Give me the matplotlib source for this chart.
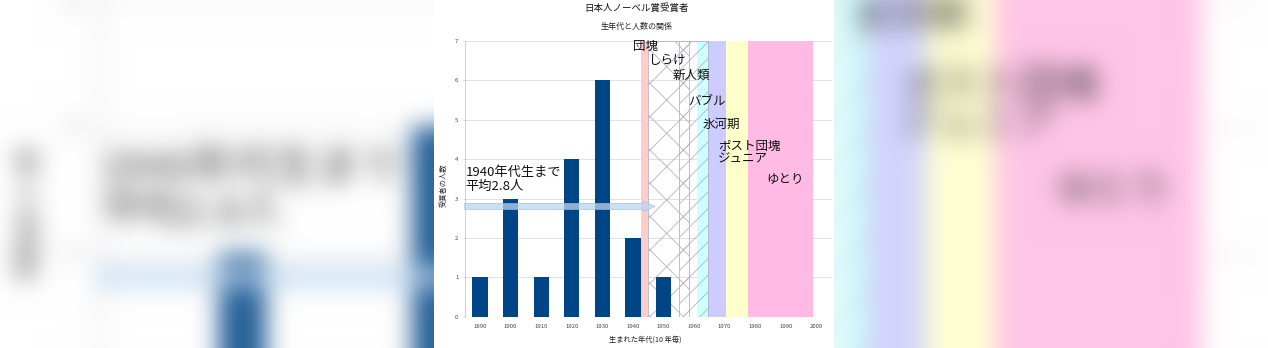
import numpy as np
import matplotlib
matplotlib.use("Agg")
import matplotlib.pyplot as plt

plt.rcParams['font.family'] = ['Noto Sans CJK JP', 'DejaVu Sans']
plt.rcParams['hatch.linewidth'] = 0.6

# --- data -------------------------------------------------------------
decades = [1890, 1900, 1910, 1920, 1930, 1940, 1950, 1960, 1970, 1980, 1990, 2000]
laureates = [1, 3, 1, 4, 6, 2, 1, 0, 0, 0, 0, 0]
avg_until_1940s = 2.8

title = '日本人ノーベル賞受賞者'
subtitle = '生年代と人数の関係'
xlabel = '生まれた年代(10 年毎)'
ylabel = '受賞者の人数'
note = '1940年代生まで\n平均2.8人'

gen_names = ['団塊', 'しらけ', '新人類', 'バブル', '氷河期', 'ポスト団塊\nジュニア', 'ゆとり']
gen_start = [1942.5, 1945.0, 1955.0, 1961.0, 1964.5, 1970.5, 1977.5]
gen_end = [1945.0, 1958.5, 1964.5, 1964.5, 1970.5, 1977.5, 1999.0]

# --- styles -----------------------------------------------------------
BAR_COLOR = '#004586'
gen_fill = ['#ffcccc', None, None, '#ccffff', '#ccccff', '#ffffcc', '#ffbbe3']
gen_hatch = [None, 'x', '//', None, None, None, None]
HATCH_COLOR = '#b4b4c4'
# label anchors (x in years, y in count units)
gen_label_pos = [(1940.0, 6.87), (1944.8, 6.51), (1953.0, 6.13), (1958.0, 5.47),
                 (1962.8, 4.87), (1967.8, 4.17), (1983.5, 3.49)]

FIG_W, FIG_H = 1268, 348
CHART_W = 400
CHART_X0 = (FIG_W - CHART_W) // 2


def draw_chart(fig, ox):
    fw, fh = fig.get_size_inches() * fig.dpi

    def fx(px):
        return (ox + px) / fw

    def fy(py):
        return 1 - py / fh

    ax = fig.add_axes([fx(30.7), fy(316.7), 367 / fw, 275.7 / fh])
    ax.set_xlim(1885, 2005)
    ax.set_ylim(0, 7)
    ax.set_facecolor('white')

    # generation bands
    for s, e, fc in zip(gen_start, gen_end, gen_fill):
        if fc is not None:
            ax.axvspan(s, e, facecolor=fc, edgecolor='none', zorder=1)
    for s, e, h in zip(gen_start, gen_end, gen_hatch):
        if h is not None:
            ax.axvspan(s, e, facecolor='none', edgecolor=HATCH_COLOR,
                       hatch=h, linewidth=0.6, zorder=1.1)

    ax.bar(decades, laureates, width=5, color=BAR_COLOR, zorder=2)

    # average arrow
    ax.annotate('', xy=(1947.3, avg_until_1940s), xytext=(1885.0, avg_until_1940s),
                arrowprops=dict(arrowstyle='simple,head_length=8.5,head_width=7.4,tail_width=4.3',
                                mutation_scale=1, fc='#bcd6f0', ec='#9cbde0', lw=0.6,
                                alpha=0.75, shrinkA=0, shrinkB=0),
                zorder=3, annotation_clip=False)
    ax.text(1885.3, 3.48, note, fontsize=9.5, va='center', ha='left',
            linespacing=1.1, color='#111111', zorder=4)

    for name, (lx, ly) in zip(gen_names, gen_label_pos):
        ax.text(lx, ly, name, fontsize=9, va='center', ha='left',
                linespacing=1.0, color='#111111', zorder=4)

    ax.set_yticks(range(0, 8))
    ax.set_xticks(decades)
    ax.set_xticklabels([str(d) for d in decades])
    ax.set_axisbelow(True)
    ax.yaxis.grid(True, color='#dcdcdc', linewidth=0.6)
    for side in ('top', 'right', 'bottom'):
        ax.spines[side].set_visible(False)
    ax.spines['left'].set_color('#c8c8c8')
    ax.spines['left'].set_linewidth(0.6)
    ax.tick_params(axis='y', length=1.5, width=0.5, color='#c8c8c8',
                   pad=3, labelsize=4.3, labelcolor='#444444')
    ax.tick_params(axis='x', length=0, pad=5.2, labelsize=4.3, labelcolor='#444444')

    fig.text(fx(202.5), fy(8), title, ha='center', va='center', fontsize=6.8, color='#111111')
    fig.text(fx(202.5), fy(26), subtitle, ha='center', va='center', fontsize=5.8, color='#222222')
    fig.text(fx(211), fy(340), xlabel, ha='center', va='center', fontsize=5.2, color='#222222')
    fig.text(fx(10), fy(185), ylabel, ha='center', va='center', rotation=90,
             fontsize=5.2, color='#222222')
    return ax


def gaussian_blur(img, sigma):
    r = int(3 * sigma)
    k = np.exp(-0.5 * (np.arange(-r, r + 1) / sigma) ** 2)
    k /= k.sum()
    h, w = img.shape[:2]
    p = np.pad(img, ((r, r), (0, 0), (0, 0)), mode='edge')
    img = sum(k[i] * p[i:i + h] for i in range(2 * r + 1))
    p = np.pad(img, ((0, 0), (r, r), (0, 0)), mode='edge')
    img = sum(k[i] * p[:, i:i + w] for i in range(2 * r + 1))
    return img


# render the chart alone, to be used as a soft enlarged backdrop
small = plt.figure(figsize=(CHART_W / 100, FIG_H / 100), dpi=100, facecolor='white')
draw_chart(small, 0)
small.canvas.draw()
snap = np.asarray(small.canvas.buffer_rgba())[..., :3].astype(float) / 255.0
plt.close(small)
backdrop = gaussian_blur(snap, 3.8)
backdrop = np.clip(0.86 * backdrop + 0.14, 0, 1)

fig = plt.figure(figsize=(FIG_W / 100, FIG_H / 100), dpi=100, facecolor='white')

bg = fig.add_axes([0, 0, 1, 1])
scale = FIG_W / CHART_W
half_h = FIG_H * scale / 2
bg.imshow(backdrop, extent=(0, FIG_W, FIG_H / 2 + half_h, FIG_H / 2 - half_h),
          interpolation='bilinear', aspect='auto')
bg.set_xlim(0, FIG_W)
bg.set_ylim(FIG_H, 0)
bg.axis('off')

panel = fig.add_axes([CHART_X0 / FIG_W, 0, CHART_W / FIG_W, 1])
panel.set_facecolor('white')
panel.set_xticks([])
panel.set_yticks([])
for s in panel.spines.values():
    s.set_visible(False)

draw_chart(fig, CHART_X0)

fig.savefig('out.png', dpi=100, facecolor='white')
